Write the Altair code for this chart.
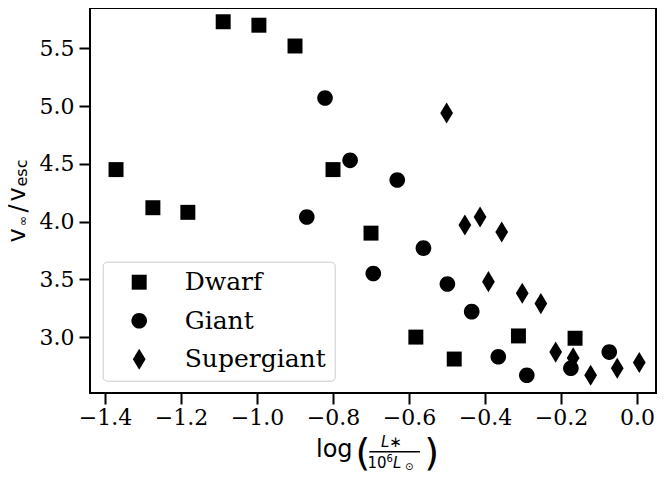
import altair as alt
import pandas as pd

# ---- data ----
classes = ["Dwarf", "Giant", "Supergiant"]

dwarf_x = [-1.371, -1.274, -1.182, -1.089, -0.995, -0.900, -0.800, -0.700, -0.582, -0.481, -0.312, -0.163]
dwarf_y = [4.45, 4.12, 4.08, 5.73, 5.70, 5.52, 4.45, 3.90, 3.00, 2.81, 3.01, 2.99]

giant_x = [-0.821, -0.869, -0.755, -0.631, -0.562, -0.694, -0.499, -0.435, -0.365, -0.290, -0.174, -0.073]
giant_y = [5.07, 4.04, 4.53, 4.36, 3.77, 3.55, 3.46, 3.22, 2.83, 2.67, 2.73, 2.87]

super_x = [-0.501, -0.453, -0.413, -0.356, -0.391, -0.302, -0.253, -0.214, -0.168, -0.122, -0.052, 0.006]
super_y = [4.94, 3.97, 4.04, 3.91, 3.48, 3.38, 3.29, 2.87, 2.82, 2.67, 2.73, 2.78]

x_ticks = [-1.4, -1.2, -1.0, -0.8, -0.6, -0.4, -0.2, 0.0]
y_ticks = [3.0, 3.5, 4.0, 4.5, 5.0, 5.5]

rows = []
for cls, xs, ys in [("Dwarf", dwarf_x, dwarf_y), ("Giant", giant_x, giant_y), ("Supergiant", super_x, super_y)]:
    for a, b in zip(xs, ys):
        rows.append({"cls": cls, "x": a, "y": b})
df = pd.DataFrame(rows)

# ---- marker shapes (unit box -1..1, drawn at size 484 -> 11px per unit) ----
SQUARE = "M-0.68,-0.68H0.68V0.68H-0.68Z"
CIRCLE = ("M0.71,0C0.71,0.392,0.392,0.71,0,0.71C-0.392,0.71,-0.71,0.392,-0.71,0"
          "C-0.71,-0.392,-0.392,-0.71,0,-0.71C0.392,-0.71,0.71,-0.392,0.71,0Z")
DIAMOND = "M0,-0.96L0.58,0L0,0.96L-0.58,0Z"

W, H = 566, 385
SERIF = "DejaVu Serif"
SANS = "DejaVu Sans"

points = alt.Chart(df).mark_point(
    filled=True, color="black", opacity=1, size=484, strokeWidth=0
).encode(
    x=alt.X("x:Q",
            scale=alt.Scale(domain=[-1.4395, 0.05], nice=False, zero=False),
            axis=alt.Axis(values=x_ticks, format=".1f", title=None, labelPadding=3)),
    y=alt.Y("y:Q",
            scale=alt.Scale(domain=[2.516, 5.849], nice=False, zero=False),
            axis=alt.Axis(values=y_ticks, format=".1f", title=None, labelPadding=5)),
    shape=alt.Shape("cls:N",
                    scale=alt.Scale(domain=classes, range=[SQUARE, CIRCLE, DIAMOND]),
                    legend=alt.Legend(title=None, orient="none", legendX=12.7, legendY=253.7,
                                      padding=8, symbolOffset=16, labelOffset=33, rowPadding=12.5,
                                      labelFont=SERIF, labelFontSize=25, labelColor="black",
                                      symbolSize=484, symbolFillColor="black", symbolStrokeWidth=0,
                                      symbolOpacity=1, fillColor="white", strokeColor="#cccccc",
                                      cornerRadius=4)),
)


def txt(t, x, y, size, italic=False, angle=0, align="left", baseline="alphabetic"):
    kw = dict(text=t, font=SANS, fontSize=size, align=align, baseline=baseline, color="black")
    if italic:
        kw["fontStyle"] = "italic"
    if angle:
        kw["angle"] = angle
    return alt.Chart(pd.DataFrame({"k": [0]})).mark_text(**kw).encode(
        x=alt.value(x), y=alt.value(y))


# x-axis title: log( L* / 10^6 L_sun )
xt = [
    txt("log", 226, 449, 24),
    txt("(", 273, 457, 38, align="center"),
    txt("L\u2217", 291, 439, 15, italic=True),
    txt("10", 277.5, 460, 15),
    txt("6", 296.5, 454, 10),
    txt("L", 303, 460, 15, italic=True),
    txt("\u2299", 315, 461.5, 10),
    txt(")", 341.7, 457, 38, align="center"),
]
frac = alt.Chart(pd.DataFrame({"k": [0]})).mark_rule(color="black", strokeWidth=1.5).encode(
    x=alt.value(279.3), x2=alt.value(330), y=alt.value(443.8))

# y-axis title: v_inf / v_esc (rotated)
yt = [
    txt("v", -65, 234.5, 24, angle=270),
    txt("\u221e", -63, 218, 12, angle=270),
    txt("/", -64, 200.5, 24, angle=270, align="center"),
    txt("v", -65, 193.5, 24, angle=270),
    txt("esc", -63, 178.5, 16, angle=270),
]

chart = alt.layer(points, frac, *xt, *yt).properties(
    width=W, height=H,
    autosize=alt.AutoSizeParams(type="none"),
    padding={"left": 82, "top": 0, "right": 1, "bottom": 78},
).configure_view(
    stroke="black", strokeWidth=2
).configure_axis(
    grid=False, domain=False, tickColor="black", tickWidth=2, tickSize=11,
    labelFont=SERIF, labelFontSize=22, labelColor="black"
)

chart.save("out.html", embed_options={"renderer": "svg", "actions": False})
